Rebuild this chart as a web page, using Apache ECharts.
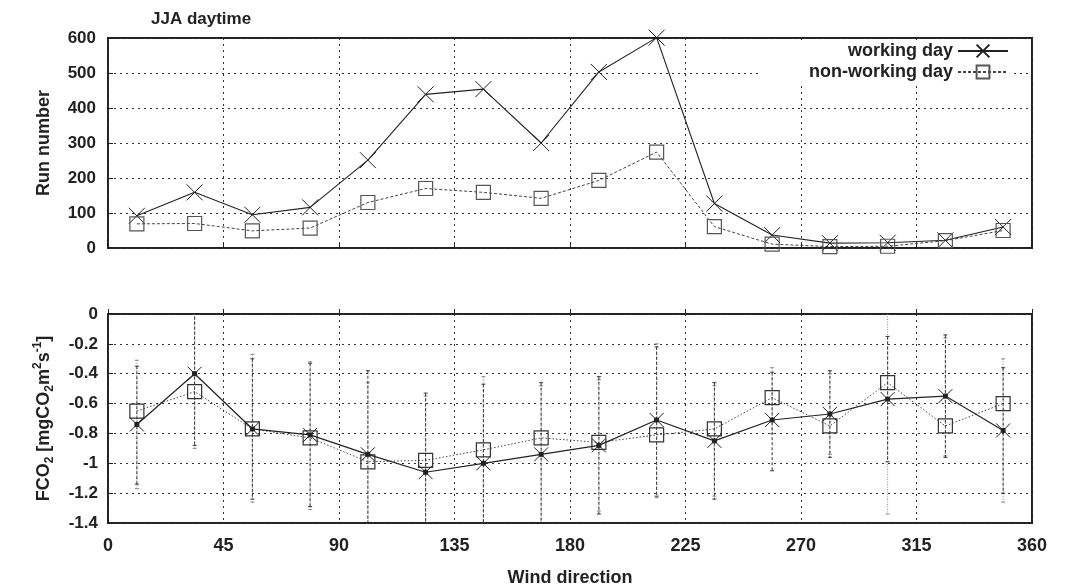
<!DOCTYPE html>
<html>
<head>
<meta charset="utf-8">
<script src="https://cdn.jsdelivr.net/npm/echarts@6/dist/echarts.min.js"></script>
<style>
  html, body { margin: 0; padding: 0; background: #fff; }
  #chart { width: 1077px; height: 588px; }
</style>
</head>
<body>
<div id="chart"></div>
<script>
// wind direction bin centres
var dirs = [11.25, 33.75, 56.25, 78.75, 101.25, 123.75, 146.25, 168.75,
            191.25, 213.75, 236.25, 258.75, 281.25, 303.75, 326.25, 348.75];
var xTicks = [0, 45, 90, 135, 180, 225, 270, 315, 360];

// run numbers
var runWork = [92, 159, 95, 116, 251, 439, 454, 300, 503, 601, 127, 37, 14, 15, 22, 60];
var runNon  = [69, 70, 49, 57, 130, 170, 159, 142, 193, 274, 61, 11, 4, 5, 21, 50];

// mean CO2 flux
var fcoWork = [-0.74, -0.40, -0.77, -0.81, -0.94, -1.06, -1.00, -0.94,
               -0.88, -0.71, -0.85, -0.71, -0.67, -0.57, -0.55, -0.78];
var fcoNon  = [-0.65, -0.52, -0.77, -0.83, -0.99, -0.98, -0.91, -0.83,
               -0.86, -0.81, -0.77, -0.56, -0.75, -0.46, -0.75, -0.60];

// error bar ends (upper / lower)
var workHi = [-0.35, 0.05, -0.30, -0.33, -0.38, -0.53, -0.47, -0.46,
              -0.42, -0.22, -0.46, -0.39, -0.38, -0.15, -0.14, -0.36];
var workLo = [-1.14, -0.88, -1.24, -1.29, -1.50, -1.60, -1.55, -1.45,
              -1.34, -1.22, -1.24, -1.05, -0.96, -0.99, -0.96, -1.20];
var nonHi  = [-0.31, 0.05, -0.27, -0.32, -0.46, -0.55, -0.42, -0.48,
              -0.44, -0.20, -0.48, -0.36, -0.40, 0.05, -0.16, -0.30];
var nonLo  = [-1.17, -0.90, -1.26, -1.31, -1.45, -1.50, -1.45, -1.42,
              -1.32, -1.23, -1.22, -0.80, -0.94, -1.34, -0.95, -1.26];

var ink = '#222';
var font = 'Liberation Sans, Arial, sans-serif';
var crossPath = 'path://M0,0L10,10M10,0L0,10';
var crossDotPath = 'path://M0,0L10,10M10,0L0,10M3.6,3.6L6.4,3.6L6.4,6.4L3.6,6.4Z';
var boxPath = 'path://M0,0L10,0L10,10L0,10Z';

function pairs(xs, ys) {
    return xs.map(function (x, i) { return [x, ys[i]]; });
}

function errData(hi, lo) {
    return dirs.map(function (x, i) { return [x, hi[i], lo[i]]; });
}

function errRenderer(color, dash) {
    return function (params, api) {
        var x = api.value(0);
        var top = api.coord([x, api.value(1)]);
        var bot = api.coord([x, api.value(2)]);
        var st = { stroke: color, lineWidth: 1, lineDash: dash, fill: null };
        return {
            type: 'group',
            children: [
                { type: 'line', shape: { x1: top[0], y1: top[1], x2: bot[0], y2: bot[1] }, style: st },
                { type: 'line', shape: { x1: top[0] - 2, y1: top[1], x2: top[0] + 2, y2: top[1] }, style: { stroke: color, lineWidth: 1 } },
                { type: 'line', shape: { x1: bot[0] - 2, y1: bot[1], x2: bot[0] + 2, y2: bot[1] }, style: { stroke: color, lineWidth: 1 } }
            ]
        };
    };
}

var gridLine = { show: true, lineStyle: { color: '#333', width: 1, type: [2, 4] } };

function xAxisFor(idx, labels) {
    return {
        type: 'value', gridIndex: idx, min: 0, max: 360, interval: 45,
        axisLine: { show: false },
        axisTick: { show: true, inside: true, length: 5, lineStyle: { color: ink } },
        axisLabel: { show: labels, color: ink, fontSize: 18, fontWeight: 'bold', fontFamily: font, margin: 14 },
        splitLine: gridLine,
        name: labels ? 'Wind direction' : '',
        nameLocation: 'middle', nameGap: 46,
        nameTextStyle: { color: ink, fontSize: 18, fontWeight: 'bold', fontFamily: font }
    };
}

var myChart = echarts.init(document.getElementById('chart'), null, { renderer: 'canvas' });

var option = {
    backgroundColor: '#fff',
    animation: false,
    title: {
        text: 'JJA daytime',
        left: 146, top: 6,
        textStyle: { color: ink, fontSize: 17, fontWeight: 'bold', fontFamily: font }
    },
    legend: {
        data: ['working day', 'non-working day'],
        orient: 'vertical',
        align: 'right',
        right: 64, top: 40,
        itemWidth: 50, itemHeight: 16, itemGap: 3,
        backgroundColor: '#fff',
        padding: [2, 4, 4, 50],
        textStyle: { color: ink, fontSize: 18, fontWeight: 'bold', fontFamily: font },
        z: 5
    },
    grid: [
        { left: 108, right: 45, top: 38, height: 210, show: true, borderColor: ink, borderWidth: 2, backgroundColor: 'transparent' },
        { left: 108, right: 45, top: 314, height: 209, show: true, borderColor: ink, borderWidth: 2, backgroundColor: 'transparent' }
    ],
    xAxis: [xAxisFor(0, false), xAxisFor(1, true)],
    yAxis: [
        {
            type: 'value', gridIndex: 0, min: 0, max: 600, interval: 100,
            axisLine: { show: false },
            axisTick: { show: true, inside: true, length: 5, lineStyle: { color: ink } },
            axisLabel: { color: ink, fontSize: 17, fontWeight: 'bold', fontFamily: font, margin: 12 },
            splitLine: gridLine,
            name: 'Run number', nameLocation: 'middle', nameGap: 55,
            nameTextStyle: { color: ink, fontSize: 18, fontWeight: 'bold', fontFamily: font }
        },
        {
            type: 'value', gridIndex: 1, min: -1.4, max: 0, interval: 0.2,
            axisLine: { show: false },
            axisTick: { show: true, inside: true, length: 5, lineStyle: { color: ink } },
            axisLabel: { color: ink, fontSize: 17, fontWeight: 'bold', fontFamily: font, margin: 10 },
            splitLine: gridLine,
            name: '{a|FCO}{s|2}{a| [mgCO}{s|2}{a|m}{p|2}{a|s}{p|-1}{a|]}',
            nameLocation: 'middle', nameGap: 52,
            nameTextStyle: {
                color: ink, fontFamily: font,
                rich: {
                    a: { fontSize: 18, fontWeight: 'bold', fontFamily: font, color: ink, lineHeight: 24, verticalAlign: 'middle' },
                    s: { fontSize: 12, fontWeight: 'bold', fontFamily: font, color: ink, lineHeight: 24, verticalAlign: 'bottom' },
                    p: { fontSize: 12, fontWeight: 'bold', fontFamily: font, color: ink, lineHeight: 24, verticalAlign: 'top' }
                }
            }
        }
    ],
    series: [
        {
            name: 'working day', type: 'line', xAxisIndex: 0, yAxisIndex: 0,
            data: pairs(dirs, runWork),
            symbol: crossPath, symbolSize: 16,
            itemStyle: { color: 'none', borderColor: ink, borderWidth: 1 },
            lineStyle: { color: ink, width: 1.1 },
            clip: false,
            z: 3
        },
        {
            name: 'non-working day', type: 'line', xAxisIndex: 0, yAxisIndex: 0,
            data: pairs(dirs, runNon),
            symbol: boxPath, symbolSize: 14,
            itemStyle: { color: 'none', borderColor: '#555', borderWidth: 1.2 },
            lineStyle: { color: '#444', width: 1, type: [3, 2] },
            clip: false,
            z: 3
        },
        {
            name: 'err-non', type: 'custom', xAxisIndex: 1, yAxisIndex: 1,
            data: errData(nonHi, nonLo),
            encode: { x: 0, y: [1, 2] },
            renderItem: errRenderer('#888', [1, 1.5]),
            clip: true, silent: true, z: 2
        },
        {
            name: 'err-work', type: 'custom', xAxisIndex: 1, yAxisIndex: 1,
            data: errData(workHi, workLo),
            encode: { x: 0, y: [1, 2] },
            renderItem: errRenderer('#333', [3, 2]),
            clip: true, silent: true, z: 2
        },
        {
            name: 'non-working day', type: 'line', xAxisIndex: 1, yAxisIndex: 1,
            data: pairs(dirs, fcoNon),
            symbol: boxPath, symbolSize: 14,
            itemStyle: { color: 'none', borderColor: '#333', borderWidth: 1.2 },
            lineStyle: { color: '#444', width: 1, type: [1.5, 2] },
            z: 3
        },
        {
            name: 'working day', type: 'line', xAxisIndex: 1, yAxisIndex: 1,
            data: pairs(dirs, fcoWork),
            symbol: crossDotPath, symbolSize: 14,
            itemStyle: { color: ink, borderColor: ink, borderWidth: 1 },
            lineStyle: { color: ink, width: 1.2 },
            z: 4
        }
    ]
};

myChart.setOption(option);
</script>
</body>
</html>
